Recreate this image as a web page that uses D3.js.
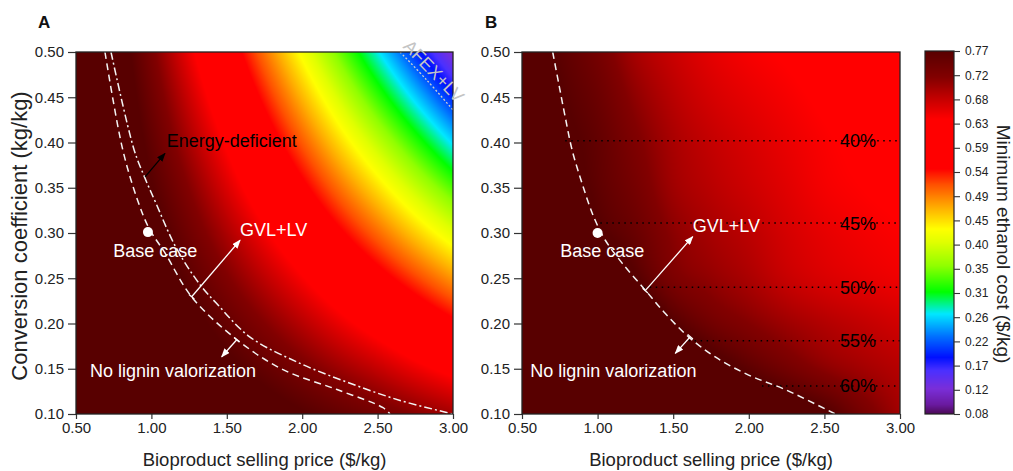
<!DOCTYPE html>
<html><head><meta charset="utf-8">
<script src="https://cdn.jsdelivr.net/npm/d3@7"></script>
<style>
body{margin:0;background:#fff}
svg{display:block}
text{font-family:"Liberation Sans",Arial,Helvetica,sans-serif}
</style>
</head><body>
<svg id="chart" width="1013" height="471"></svg>
<script>
// ---------------- data ----------------
const priceGrid = [0.50, 0.75, 1.00, 1.25, 1.50, 1.75, 2.00, 2.25, 2.50, 2.75, 3.00];
const coefGrid  = [0.10, 0.15, 0.20, 0.25, 0.30, 0.35, 0.40, 0.45, 0.50];

// Panel A: minimum ethanol cost ($/kg), rows = coefGrid, cols = priceGrid
const costA = [
  [0.887,0.868,0.850,0.831,0.812,0.793,0.774,0.755,0.737,0.718,0.699],
  [0.886,0.860,0.834,0.808,0.782,0.756,0.730,0.704,0.679,0.652,0.627],
  [0.885,0.852,0.819,0.786,0.753,0.720,0.687,0.653,0.620,0.587,0.554],
  [0.884,0.844,0.804,0.763,0.723,0.683,0.643,0.602,0.562,0.522,0.482],
  [0.883,0.836,0.789,0.741,0.694,0.646,0.599,0.551,0.504,0.456,0.409],
  [0.882,0.828,0.773,0.719,0.664,0.609,0.555,0.500,0.446,0.391,0.337],
  [0.882,0.820,0.758,0.696,0.635,0.573,0.511,0.449,0.388,0.326,0.264],
  [0.881,0.812,0.743,0.674,0.605,0.536,0.467,0.398,0.329,0.260,0.192],
  [0.880,0.804,0.728,0.651,0.575,0.499,0.423,0.347,0.271,0.195,0.119]
];
// Panel B
const costB = [
  [0.990,0.970,0.950,0.925,0.900,0.870,0.840,0.810,0.780,0.735,0.700],
  [0.960,0.935,0.910,0.880,0.845,0.800,0.765,0.738,0.715,0.700,0.688],
  [0.930,0.900,0.870,0.830,0.775,0.740,0.720,0.703,0.690,0.680,0.670],
  [0.900,0.870,0.830,0.775,0.728,0.710,0.695,0.677,0.665,0.657,0.650],
  [0.880,0.835,0.780,0.750,0.715,0.697,0.684,0.668,0.656,0.648,0.642],
  [0.860,0.800,0.763,0.735,0.702,0.686,0.673,0.660,0.647,0.640,0.634],
  [0.840,0.787,0.758,0.725,0.696,0.679,0.666,0.654,0.643,0.635,0.627],
  [0.820,0.775,0.748,0.712,0.686,0.668,0.656,0.646,0.636,0.628,0.618],
  [0.800,0.765,0.735,0.697,0.675,0.657,0.645,0.637,0.628,0.620,0.610]
];

const xTickValues = [0.50, 1.00, 1.50, 2.00, 2.50, 3.00];
const yTickValues = [0.10, 0.15, 0.20, 0.25, 0.30, 0.35, 0.40, 0.45, 0.50];
const colorbarRange = [0.077, 0.77];
const colorbarLabels = ["0.08","0.12","0.17","0.22","0.26","0.31","0.35","0.40","0.45","0.49","0.54","0.59","0.63","0.68","0.72","0.77"];
const colorStopValues = [0.077,0.095,0.125,0.160,0.185,0.225,0.268,0.310,0.360,0.405,0.430,0.470,0.515,0.545,0.640,0.680,0.720,0.770];
const colorStopColors = ["#4b0a55","#6a1aa0","#7a2ed8","#4a30ff","#0010ff","#0070ff","#00e8ff","#00ff00","#90ff00","#e0ff00","#ffff00","#ffb000","#ff5000","#ff0000","#ff0000","#c20000","#820000","#580000"];

// curves (price, coefficient)
const noLigninA = [[0.692,0.500],[0.810,0.392],[0.909,0.336],[0.985,0.305],[1.090,0.278],[1.269,0.229],[1.568,0.182],[1.873,0.149],[2.231,0.127],[2.536,0.107],[2.582,0.100]];
const energyDeficientA = [[0.732,0.500],[0.885,0.392],[0.954,0.362],[1.030,0.333],[1.163,0.284],[1.322,0.243],[1.433,0.222],[1.654,0.185],[1.985,0.156],[2.317,0.134],[2.649,0.115],[3.000,0.100]];
const afexLV = [[2.649,0.500],[2.826,0.469],[3.000,0.436]];
const noLigninB = [[0.703,0.500],[0.743,0.465],[0.786,0.428],[0.831,0.392],[0.897,0.355],[0.974,0.318],[1.051,0.292],[1.161,0.267],[1.315,0.237],[1.448,0.211],[1.603,0.185],[1.778,0.163],[1.999,0.143],[2.241,0.127],[2.572,0.100]];
const baseCaseA = [0.977, 0.301];
const baseCaseB = [1.00, 0.300];
// lignin share lines in panel B
const shareLabels = ["40%","45%","50%","55%","60%"];
const shareCoef   = [0.402, 0.311, 0.240, 0.181, 0.131];
const shareStart  = [0.786, 1.018, 1.305, 1.602, 2.087];

// ---------------- drawing ----------------
const svg = d3.select("#chart");
const TOP = 52, BOT = 414;
const xA = d3.scaleLinear().domain([0.5, 3]).range([76, 453]);
const xB = d3.scaleLinear().domain([0.5, 3]).range([522, 900]);
const y  = d3.scaleLinear().domain([0.1, 0.5]).range([BOT, TOP]);
const color = d3.scaleLinear().domain(colorStopValues).range(colorStopColors)
  .interpolate(d3.interpolateRgb).clamp(true);

const defs = svg.append("defs");
function marker(id, fill){
  defs.append("marker").attr("id", id).attr("viewBox","0 0 10 10")
    .attr("refX", 9).attr("refY", 5).attr("markerWidth", 9).attr("markerHeight", 7)
    .attr("markerUnits","userSpaceOnUse").attr("orient","auto").attr("preserveAspectRatio","none")
    .append("path").attr("d","M0,0L10,5L0,10z").attr("fill", fill);
}
marker("ahW", "#ffffff");
marker("ahK", "#000000");

// smooth (Catmull-Rom, tensor product) interpolation of the grid for rendering
function gridVal(grid, j, i){
  const nj = grid.length, ni = grid[0].length;
  if (j < 0) return 2*gridVal(grid, 0, i) - gridVal(grid, 1, i);
  if (j >= nj) return 2*gridVal(grid, nj-1, i) - gridVal(grid, nj-2, i);
  if (i < 0) return 2*grid[j][0] - grid[j][1];
  if (i >= ni) return 2*grid[j][ni-1] - grid[j][ni-2];
  return grid[j][i];
}
function cr(a, b, c, d, t){
  return 0.5*(2*b + (-a + c)*t + (2*a - 5*b + 4*c - d)*t*t + (-a + 3*b - 3*c + d)*t*t*t);
}
function interp(grid, p, c){
  let i = d3.bisectRight(priceGrid, p) - 1; i = Math.max(0, Math.min(priceGrid.length - 2, i));
  let j = d3.bisectRight(coefGrid, c) - 1;  j = Math.max(0, Math.min(coefGrid.length - 2, j));
  const t = (p - priceGrid[i]) / (priceGrid[i+1] - priceGrid[i]);
  const u = (c - coefGrid[j]) / (coefGrid[j+1] - coefGrid[j]);
  const r = [];
  for (let jj = j-1; jj <= j+2; jj++){
    r.push(cr(gridVal(grid,jj,i-1), gridVal(grid,jj,i), gridVal(grid,jj,i+1), gridVal(grid,jj,i+2), t));
  }
  return cr(r[0], r[1], r[2], r[3], u);
}

function drawHeat(x, grid){
  const x0 = x.range()[0], x1 = x.range()[1];
  const w = Math.round(x1 - x0), h = BOT - TOP;
  const cv = document.createElement("canvas"); cv.width = w; cv.height = h;
  const ctx = cv.getContext("2d"); const img = ctx.createImageData(w, h);
  for (let j = 0; j < h; j++){
    const c = y.invert(TOP + j + 0.5);
    for (let i = 0; i < w; i++){
      const p = x.invert(x0 + i + 0.5);
      const col = d3.rgb(color(interp(grid, p, c)));
      const k = (j*w + i)*4;
      img.data[k] = col.r; img.data[k+1] = col.g; img.data[k+2] = col.b; img.data[k+3] = 255;
    }
  }
  ctx.putImageData(img, 0, 0);
  svg.append("image").attr("x", x0).attr("y", TOP).attr("width", w).attr("height", h)
    .attr("preserveAspectRatio","none").attr("href", cv.toDataURL());
}

function drawAxes(x){
  const gx = svg.append("g").attr("transform", `translate(0,${BOT})`)
    .call(d3.axisBottom(x).tickValues(xTickValues).tickFormat(d3.format(".2f")).tickSize(5).tickSizeOuter(0).tickPadding(3));
  const gy = svg.append("g").attr("transform", `translate(${x.range()[0]},0)`)
    .call(d3.axisLeft(y).tickValues(yTickValues).tickFormat(d3.format(".2f")).tickSize(8).tickSizeOuter(0).tickPadding(4));
  [gx, gy].forEach(g => {
    g.select(".domain").remove();
    g.selectAll(".tick line").attr("stroke", "#333").attr("stroke-width", 1.2);
    g.selectAll(".tick text").attr("fill", "#222").style("font-size", "15px")
      .style("font-family", "'Liberation Sans',Arial,sans-serif");
  });
  svg.append("rect").attr("x", x.range()[0]).attr("y", TOP)
    .attr("width", x.range()[1] - x.range()[0]).attr("height", BOT - TOP)
    .attr("fill", "none").attr("stroke", "#222").attr("stroke-width", 1.3);
}

function curve(x, pts, dash, color, width){
  const line = d3.line().x(d => x(d[0])).y(d => y(d[1])).curve(d3.curveCatmullRom.alpha(0.5));
  svg.append("path").attr("d", line(pts)).attr("fill", "none")
    .attr("stroke", color).attr("stroke-width", width || 1.5).attr("stroke-dasharray", dash);
}

function arrow(x, tail, head, col, marker, bar){
  const x1 = x(tail[0]), y1 = y(tail[1]), x2 = x(head[0]), y2 = y(head[1]);
  svg.append("line").attr("x1", x1).attr("y1", y1).attr("x2", x2).attr("y2", y2)
    .attr("stroke", col).attr("stroke-width", 1.3).attr("marker-end", `url(#${marker})`);
  if (bar){
    const L = Math.hypot(x2-x1, y2-y1), nx = -(y2-y1)/L, ny = (x2-x1)/L;
    svg.append("line").attr("x1", x1 + nx*3.5).attr("y1", y1 + ny*3.5)
      .attr("x2", x1 - nx*3.5).attr("y2", y1 - ny*3.5).attr("stroke", col).attr("stroke-width", 1.3);
  }
}

function label(x, p, c, txt, fill, anchor, size){
  return svg.append("text").attr("x", x(p)).attr("y", y(c)).attr("fill", fill)
    .attr("text-anchor", anchor || "start").style("font-size", (size || 18) + "px").text(txt);
}

// ---- Panel A ----
drawHeat(xA, costA);
curve(xA, noLigninA, "7,4.5", "#f4f4f4", 1.5);
curve(xA, energyDeficientA, "8,3,2,3", "#f4f4f4", 1.5);
curve(xA, afexLV, "2,2", "#d0d0d0", 1.3);
drawAxes(xA);
svg.append("circle").attr("cx", xA(baseCaseA[0])).attr("cy", y(baseCaseA[1])).attr("r", 5).attr("fill", "#fff");
label(xA, 0.747, 0.273, "Base case", "#fff");
label(xA, 1.101, 0.395, "Energy-deficient", "#000");
arrow(xA, [0.958, 0.362], [1.090, 0.388], "#000", "ahK", false);
label(xA, 1.588, 0.297, "GVL+LV", "#fff");
arrow(xA, [1.267, 0.2296], [1.588, 0.292], "#fff", "ahW", true);
label(xA, 1.694, 0.1414, "No lignin valorization", "#fff", "end");
arrow(xA, [1.566, 0.182], [1.466, 0.1633], "#fff", "ahW", true);
// AFEX+LV rotated label
svg.append("text").attr("transform", `translate(${xA(2.874)-4.7},${y(0.479)+4.5}) rotate(46)`)
  .attr("text-anchor", "middle").attr("fill", "#c4c4c4").style("font-size", "18px").text("AFEX+LV");

// ---- Panel B ----
drawHeat(xB, costB);
shareLabels.forEach((lab, k) => {
  svg.append("line").attr("x1", xB(shareStart[k])).attr("x2", xB(3.0))
    .attr("y1", y(shareCoef[k])).attr("y2", y(shareCoef[k]))
    .attr("stroke", "#000").attr("stroke-width", 1.5).attr("stroke-dasharray", "1.5,4.5");
  svg.append("text").attr("x", xB(2.722)).attr("y", y(shareCoef[k])).attr("dy", "0.36em")
    .attr("text-anchor", "middle").attr("fill", "#000").style("font-size", "18px").text(lab);
});
curve(xB, noLigninB, "7,4.5", "#f4f4f4", 1.5);
drawAxes(xB);
svg.append("circle").attr("cx", xB(baseCaseB[0])).attr("cy", y(baseCaseB[1])).attr("r", 5).attr("fill", "#fff");
label(xB, 0.753, 0.273, "Base case", "#fff");
label(xB, 1.629, 0.301, "GVL+LV", "#fff");
arrow(xB, [1.315, 0.2363], [1.629, 0.296], "#fff", "ahW", true);
label(xB, 0.555, 0.141, "No lignin valorization", "#fff");
arrow(xB, [1.613, 0.1854], [1.514, 0.167], "#fff", "ahW", true);

// ---- titles ----
svg.append("text").attr("x", (xA.range()[0]+xA.range()[1])/2).attr("y", 466).attr("text-anchor","middle")
  .attr("fill","#222").style("font-size","18.5px").text("Bioproduct selling price ($/kg)");
svg.append("text").attr("x", (xB.range()[0]+xB.range()[1])/2).attr("y", 466).attr("text-anchor","middle")
  .attr("fill","#222").style("font-size","18.5px").text("Bioproduct selling price ($/kg)");
svg.append("text").attr("transform", "translate(27,236) rotate(-90)").attr("text-anchor","middle")
  .attr("fill","#222").style("font-size","22px").text("Conversion coefficient (kg/kg)");
svg.append("text").attr("x", 38).attr("y", 28).attr("fill","#111").style("font-size","17px").style("font-weight","bold").text("A");
svg.append("text").attr("x", 485).attr("y", 28).attr("fill","#111").style("font-size","17px").style("font-weight","bold").text("B");

// ---- colorbar ----
const CB = {x: 925, w: 29, top: 51, bot: 414};
const cbScale = d3.scaleLinear().domain(colorbarRange).range([CB.bot, CB.top]);
(function(){
  const h = CB.bot - CB.top;
  const cv = document.createElement("canvas"); cv.width = 1; cv.height = h;
  const ctx = cv.getContext("2d");
  for (let j = 0; j < h; j++){
    ctx.fillStyle = color(cbScale.invert(CB.top + j + 0.5));
    ctx.fillRect(0, j, 1, 1);
  }
  svg.append("image").attr("x", CB.x).attr("y", CB.top).attr("width", CB.w).attr("height", h)
    .attr("preserveAspectRatio","none").attr("href", cv.toDataURL());
  svg.append("rect").attr("x", CB.x).attr("y", CB.top).attr("width", CB.w).attr("height", h)
    .attr("fill","none").attr("stroke","#222").attr("stroke-width",1.2);
  const cbPos = d3.scalePoint().domain(colorbarLabels).range([CB.bot, CB.top]);
  const g = svg.append("g").attr("transform", `translate(${CB.x + CB.w},0)`)
    .call(d3.axisRight(cbPos).tickSize(6).tickPadding(5).tickSizeOuter(0));
  g.select(".domain").remove();
  g.selectAll(".tick line").attr("stroke","#333").attr("stroke-width",1.1);
  g.selectAll(".tick text").attr("fill","#222").style("font-size","12px")
    .style("font-family","'Liberation Sans',Arial,sans-serif");
  svg.append("text").attr("transform", "translate(997,244) rotate(90)").attr("text-anchor","middle")
    .attr("fill","#222").style("font-size","19px").text("Minimum ethanol cost ($/kg)");
})();
</script>
</body></html>
